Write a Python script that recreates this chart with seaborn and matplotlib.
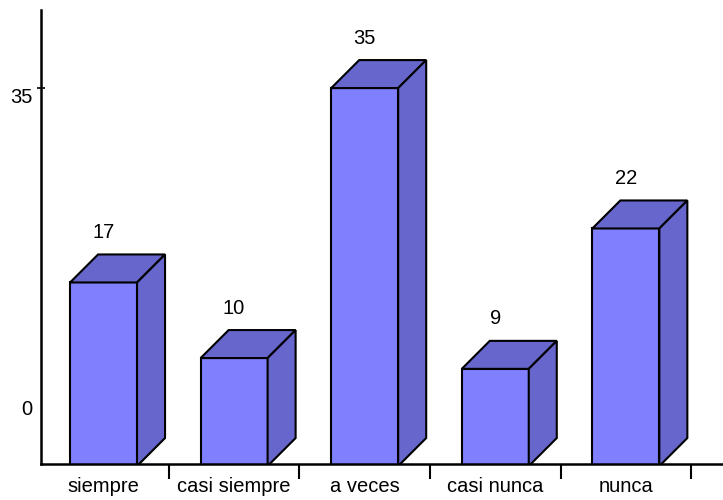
import pandas as pd
import numpy as np
import matplotlib.pyplot as plt
import seaborn as sns
from matplotlib.patches import Polygon

# Data
categories = ['siempre', 'casi siempre', 'a veces', 'casi nunca', 'nunca']
values = [17, 10, 35, 9, 22]
ytick_values = [35]

front_color = '#8080FF'
shade_color = '#6666CC'
depth_px = 28

sns.set_style('white')
plt.rcParams['font.family'] = ['Liberation Sans', 'DejaVu Sans']
plt.rcParams['text.color'] = 'black'
plt.rcParams['xtick.color'] = 'black'
plt.rcParams['ytick.color'] = 'black'

fig = plt.figure(figsize=(7.23, 5), dpi=100)
ax = fig.add_axes([41 / 723, 36 / 500, 682 / 723, 454 / 500])

df = pd.DataFrame({'cat': categories, 'val': values})
sns.barplot(data=df, x='cat', y='val', color=front_color, saturation=1,
            width=0.513, edgecolor='black', linewidth=1.5, ax=ax, zorder=3)

ax.set_xlim(-0.479, 4.744)
ax.set_ylim(0.19, 42.23)

# 3D depth: sides and tops from the bar patches
fig.canvas.draw()
to_disp = ax.transData.transform
to_data = ax.transData.inverted().transform


def shift(pt):
    px = to_disp(pt)
    return to_data((px[0] + depth_px, px[1] + depth_px))


for bar, v in zip(ax.patches, values):
    x0 = bar.get_x()
    x1 = x0 + bar.get_width()
    h = bar.get_height()
    top = [(x0, h), (x1, h), tuple(shift((x1, h))), tuple(shift((x0, h)))]
    side = [(x1, 0), (x1, h), tuple(shift((x1, h))), tuple(shift((x1, 0)))]
    for poly in (top, side):
        ax.add_patch(Polygon(poly, closed=True, facecolor=shade_color,
                             edgecolor='black', linewidth=1.5, zorder=3))
    bx, by = to_disp((x0 + bar.get_width() / 2, h))
    lx, ly = to_data((bx, by + depth_px + 22))
    ax.text(lx, ly, str(v), ha='center', va='center', fontsize=14.5,
            color='black')

# axes styling
for s in ['top', 'right']:
    ax.spines[s].set_visible(False)
for s in ['left', 'bottom']:
    ax.spines[s].set_color('black')
    ax.spines[s].set_linewidth(1.8)
ax.spines['bottom'].set_zorder(4)

ax.set_xlabel('')
ax.set_ylabel('')
ax.set_xticks(range(len(categories)))
ax.set_xticklabels(categories, fontsize=14.5, color='black')
ax.set_xticks(np.arange(len(categories)) + 0.5, minor=True)
ax.tick_params(axis='x', which='major', length=0, pad=9)
ax.tick_params(axis='x', which='minor', length=11, width=1.5,
               color='black', direction='out', bottom=True)

ax.set_yticks(ytick_values)
ax.set_yticklabels([])
ax.tick_params(axis='y', length=6, width=1.2, direction='inout',
               color='black', left=True)
ax.text(-0.012, 34.1, '35', transform=ax.get_yaxis_transform(),
        ha='right', va='center', fontsize=14.5, color='black')
ax.text(-0.012, 5.2, '0', transform=ax.get_yaxis_transform(),
        ha='right', va='center', fontsize=14.5, color='black')

fig.savefig('out.png', dpi=100)
